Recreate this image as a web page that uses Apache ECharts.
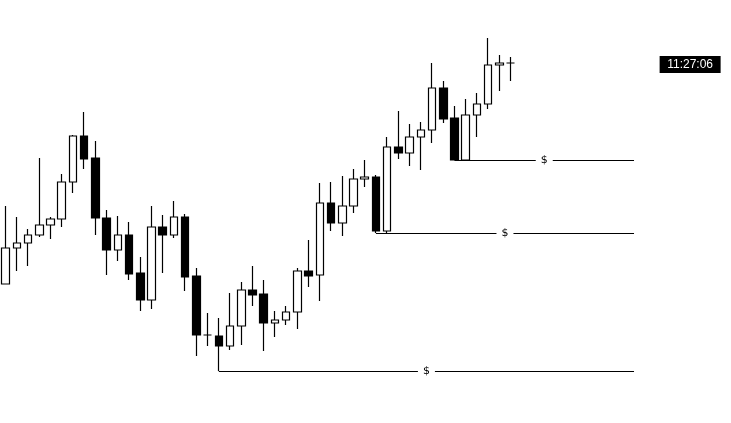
<!DOCTYPE html>
<html>
<head>
<meta charset="utf-8">
<script src="https://cdn.jsdelivr.net/npm/echarts@6/dist/echarts.min.js"></script>
<style>
html,body{margin:0;padding:0;background:#fff;}
#chart{width:731px;height:423px;}
</style>
</head>
<body>
<div id="chart"></div>
<script>
// Candles: [open, close, low, high]
const opens  = [139,175,180,188,198,204,241,287,265,205,173,188,150,123,196,188,206,147,88,87,77,97,133,129,100,103,111,152,148,220,200,217,244,246,192,276,270,286,293,335,305,263,308,319,358,360];
const closes = [175,180,188,198,204,241,287,264,205,173,188,149,123,196,188,206,146,88,88,77,97,133,128,100,103,111,152,147,220,200,217,244,246,192,276,270,286,293,335,304,263,308,319,358,360,360];
const lows   = [139,152,157,186,184,196,230,254,188,148,162,143,112,114,150,185,132,67,77,52,73,78,117,72,86,98,94,136,122,192,187,210,236,190,190,264,257,253,280,300,263,263,286,314,332,342];
const highs  = [217,206,194,265,206,249,288,311,282,213,207,201,166,217,208,222,209,155,110,105,130,141,157,143,112,117,155,183,240,241,247,254,263,248,286,312,299,301,360,342,317,324,330,385,368,366];
const totalSlots = 65;
const categories = Array.from({length: totalSlots}, (_, i) => String(i + 1));
// Support levels marked with "$": start candle index, price
const levelStarts = [40, 33, 19];
const levelPrices = [263, 190, 52];
const levelEndIndex = 56;
const clockText = '11:27:06';
const clockSlot = 61;

const candles = opens.map((o, i) => [o, closes[i], lows[i], highs[i]]);

const chart = echarts.init(document.getElementById('chart'), null, {renderer: 'canvas'});
chart.setOption({
  animation: false,
  backgroundColor: '#ffffff',
  grid: {left: -1.6, right: 1.6, top: 0, bottom: 0},
  xAxis: {
    type: 'category', data: categories, boundaryGap: true,
    axisLine: {show: false}, axisTick: {show: false}, axisLabel: {show: false}, splitLine: {show: false}
  },
  yAxis: {
    type: 'value', min: 0, max: 423, scale: false,
    axisLine: {show: false}, axisTick: {show: false}, axisLabel: {show: false}, splitLine: {show: false}
  },
  series: [{
    type: 'candlestick',
    data: candles,
    barWidth: 8,
    barMaxWidth: 8,
    itemStyle: {color: '#ffffff', color0: '#000000', borderColor: '#000000', borderColor0: '#000000', borderWidth: 1.2},
    markLine: {
      silent: true,
      symbol: ['none', 'none'],
      lineStyle: {color: '#000000', width: 1.2, type: 'solid'},
      label: {
        show: true, position: 'middle', formatter: '$', distance: 0,
        verticalAlign: 'middle', align: 'center',
        color: '#000000', fontSize: 11, fontFamily: 'DejaVu Sans',
        backgroundColor: '#ffffff', padding: [2, 5]
      },
      data: levelPrices.map((p, i) => [{coord: [levelStarts[i], p]}, {coord: [levelEndIndex, p]}])
    },
    markPoint: {
      silent: true,
      symbol: 'rect',
      symbolSize: [61, 17],
      itemStyle: {color: '#000000'},
      label: {show: true, position: 'inside', formatter: clockText, color: '#ffffff', fontSize: 12, fontFamily: 'Liberation Sans'},
      data: [{coord: [clockSlot, closes[closes.length - 1] - 1.5]}]
    }
  }]
});
</script>
</body>
</html>
